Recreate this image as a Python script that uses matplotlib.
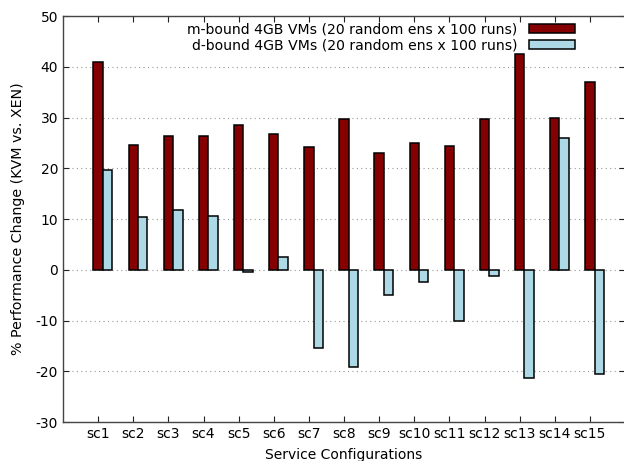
import matplotlib
matplotlib.use("Agg")
import matplotlib.pyplot as plt
import numpy as np

categories = ["sc1", "sc2", "sc3", "sc4", "sc5", "sc6", "sc7", "sc8",
              "sc9", "sc10", "sc11", "sc12", "sc13", "sc14", "sc15"]
m_bound = [41.0, 24.6, 26.4, 26.3, 28.6, 26.7, 24.1, 29.75,
           23.1, 24.9, 24.3, 29.75, 42.6, 30.0, 37.0]
d_bound = [19.6, 10.4, 11.8, 10.6, -0.5, 2.5, -15.5, -19.1,
           -5.0, -2.4, -10.0, -1.2, -21.3, 25.9, -20.6]
labels = ["m-bound 4GB VMs (20 random ens x 100 runs)",
          "d-bound 4GB VMs (20 random ens x 100 runs)"]
yticks = [-30, -20, -10, 0, 10, 20, 30, 40, 50]

plt.rcParams['font.family'] = ['DejaVu Sans']
plt.rcParams['font.size'] = 10
plt.rcParams['axes.unicode_minus'] = False

fig = plt.figure(figsize=(6.24, 4.61), dpi=100)
ax = fig.add_axes([63/624, 1 - 422/461, 562/624, (422 - 16)/461])

x = np.arange(1, len(categories) + 1)
w = 0.27
ax.bar(x, m_bound, width=w, color="#850000", edgecolor="black",
       linewidth=1.1, label=labels[0], zorder=3)
ax.bar(x + w, d_bound, width=w, color="#add8e6", edgecolor="black",
       linewidth=1.1, label=labels[1], zorder=3)

ax.set_xlim(0, 16)
ax.set_ylim(-30, 50)
ax.set_xticks(x)
ax.set_xticklabels(categories)
ax.set_yticks(yticks)
ax.tick_params(direction="in", length=4, top=True, right=True,
               colors="#222222", labelcolor="black", labelsize=10)
ax.yaxis.grid(True, linestyle=(0, (1, 3)), color="#999999", linewidth=0.8, zorder=0)
for s in ax.spines.values():
    s.set_color("#444444")
    s.set_linewidth(1.0)

ax.set_ylabel("% Performance Change (KVM vs. XEN)", fontsize=10.3, labelpad=8)
ax.set_xlabel("Service Configurations", fontsize=10, labelpad=5)

ax.legend(loc="upper right", bbox_to_anchor=(0.911, 0.985), frameon=False,
          markerfirst=False, handlelength=3.25, handleheight=0.62,
          handletextpad=0.85, labelspacing=0.16, borderpad=0, borderaxespad=0,
          fontsize=10.1)

fig.savefig("out.png", dpi=100)
